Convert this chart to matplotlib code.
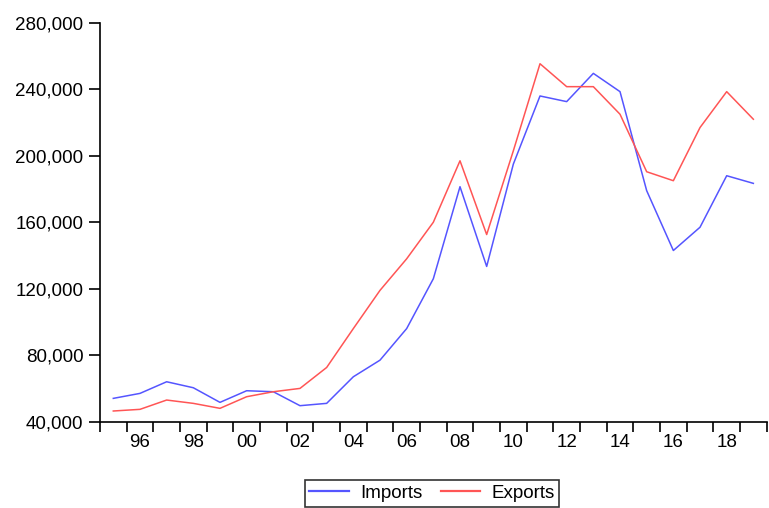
import numpy as np
import matplotlib
matplotlib.use("Agg")
import matplotlib.pyplot as plt
import matplotlib.ticker as mtick

plt.rcParams["font.family"] = ["Liberation Sans", "DejaVu Sans"]

years = list(range(1995, 2020))

imports = [54000, 57000, 64000, 60400, 51600, 58600, 58000, 49600, 51000, 67000,
           77000, 96000, 126000, 181400, 133400, 195000, 236000, 232600, 249600, 238600,
           179000, 143000, 157000, 188000, 183400]

exports = [46400, 47400, 53000, 51000, 48000, 55000, 58000, 60000, 72600, 96000,
           119000, 138000, 160000, 197000, 152600, 203000, 255400, 241600, 241600, 225000,
           190400, 185000, 217000, 238600, 222000]

label_years = list(range(1996, 2019, 2))
y_ticks = [40000, 80000, 120000, 160000, 200000, 240000, 280000]

fig = plt.figure(figsize=(7.69, 5.08), dpi=100)
ax = fig.add_axes([0.130, 0.170, 0.867, 0.785])

line_imp, = ax.plot(years, imports, color="#5555ff", linewidth=1.1, label="Imports")
line_exp, = ax.plot(years, exports, color="#ff5555", linewidth=1.1, label="Exports")

ax.set_xlim(years[0] - 0.5, years[-1] + 0.5)
ax.set_ylim(y_ticks[0], y_ticks[-1])

# year boundaries get the tick marks, even years get the labels
ax.set_xticks(np.arange(years[0] - 0.5, years[-1] + 1.0, 1.0))
ax.set_xticklabels([])
ax.set_xticks(label_years, minor=True)
ax.set_xticklabels(["%02d" % (y % 100) for y in label_years], minor=True)
ax.tick_params(axis="x", which="major", direction="out", length=7, width=1.2)
ax.tick_params(axis="x", which="minor", length=0, labelsize=13.5, pad=9)

ax.set_yticks(y_ticks)
ax.yaxis.set_major_formatter(mtick.StrMethodFormatter("{x:,.0f}"))
ax.tick_params(axis="y", direction="out", length=8, width=1.2, labelsize=13.5, pad=4)

for side in ["top", "right"]:
    ax.spines[side].set_visible(False)
for side in ["left", "bottom"]:
    ax.spines[side].set_linewidth(1.2)
    ax.spines[side].set_color("black")

leg = fig.legend(
    handles=[line_imp, line_exp],
    loc="upper center",
    bbox_to_anchor=(432 / 769, 1 - 480 / 508),
    borderaxespad=0,
    ncol=2,
    fontsize=13.5,
    frameon=True,
    fancybox=False,
    handlelength=2.1,
    handletextpad=0.6,
    columnspacing=1.0,
    borderpad=0.25,
)
leg.get_frame().set_edgecolor("black")
leg.get_frame().set_linewidth(1.2)
for h in leg.legend_handles:
    h.set_linewidth(1.6)

fig.savefig("out.png", dpi=100)
